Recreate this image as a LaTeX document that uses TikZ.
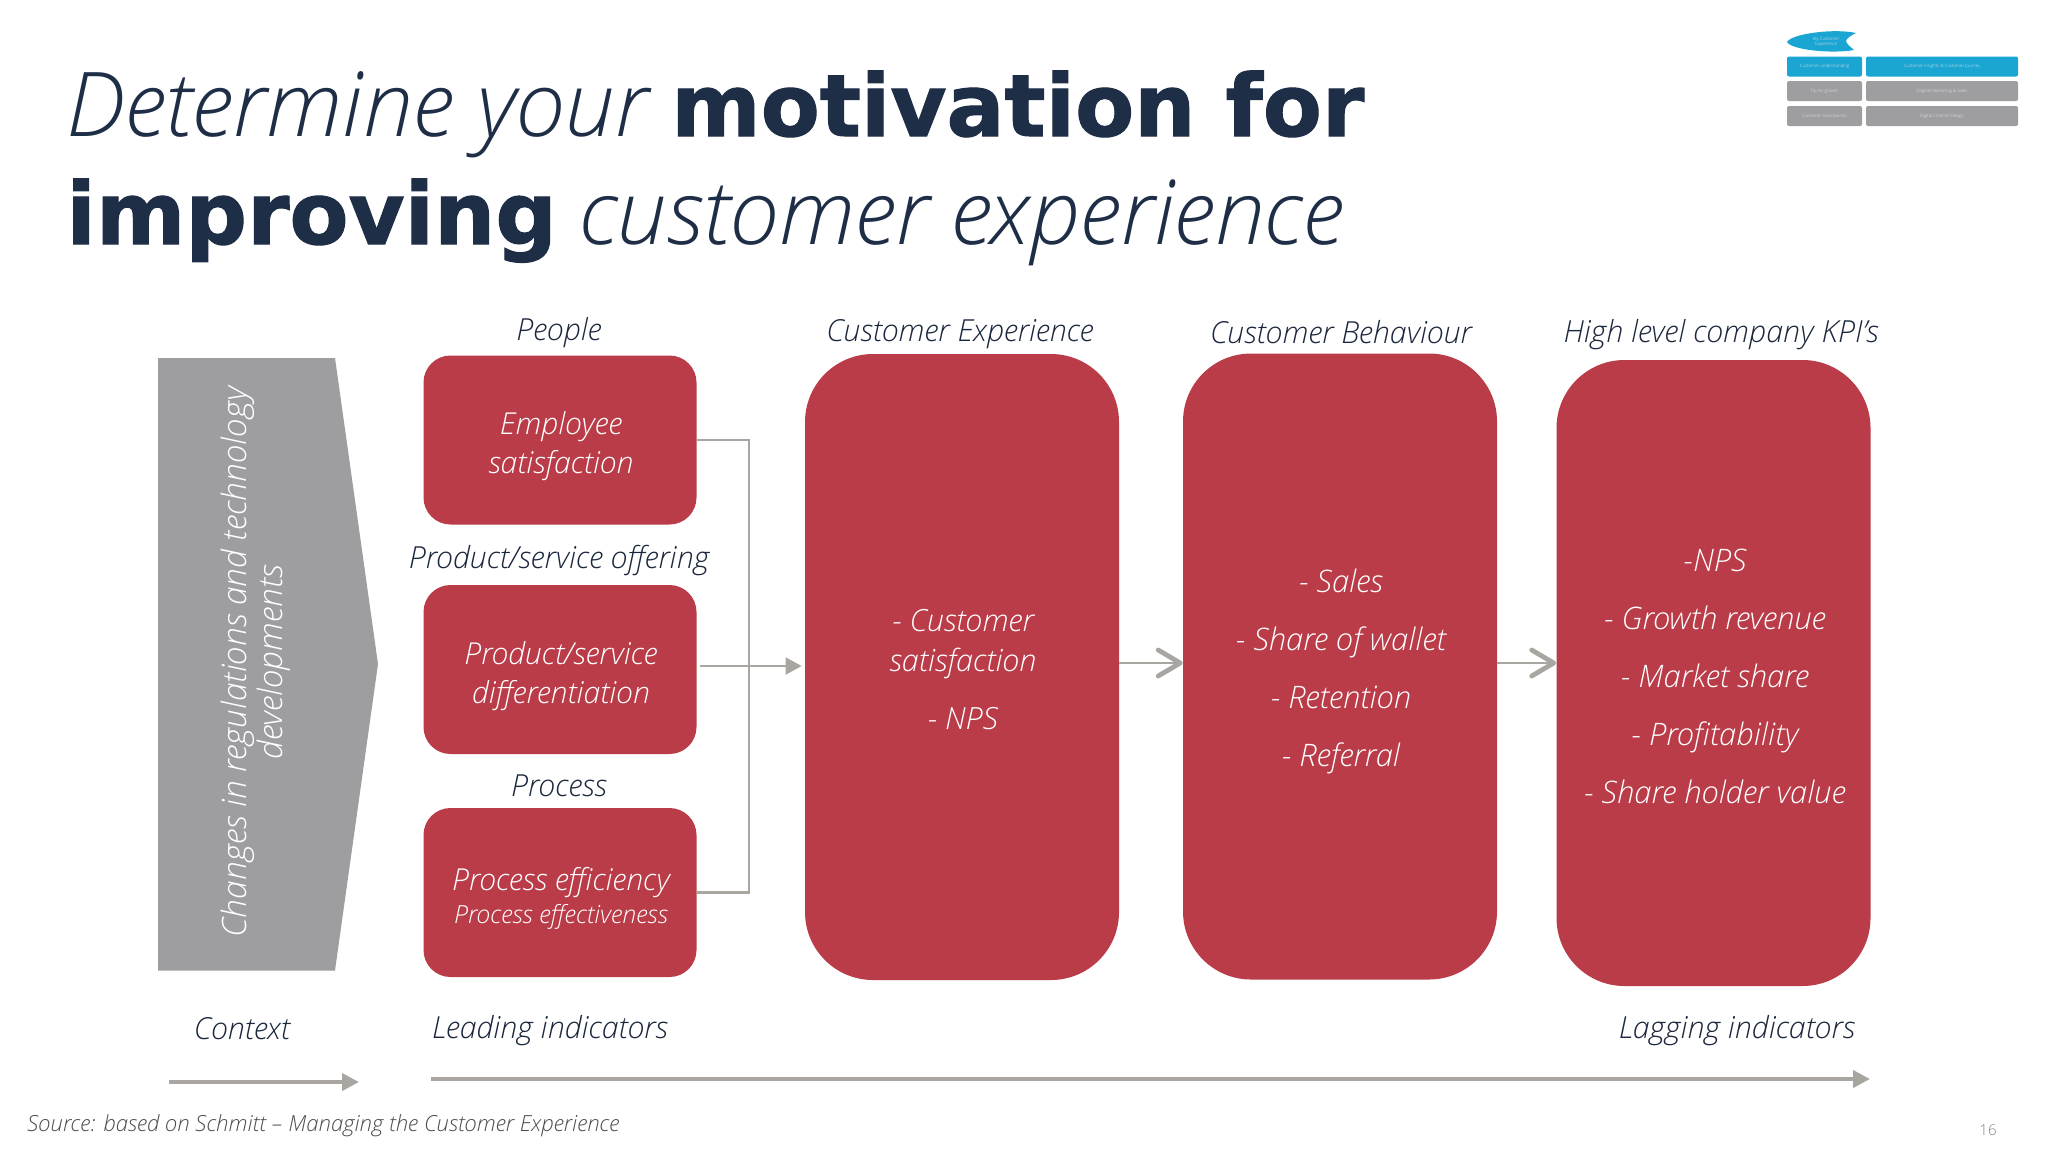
\documentclass[tikz,border=0pt]{standalone}
\usepackage{fontspec}
\setmainfont{Open Sans Light}[ItalicFont={Open Sans Light Italic}]
\newfontfamily\boldfam{DejaVu Sans Bold}[FakeBold=1.2]
\usetikzlibrary{arrows.meta}
\definecolor{cred}{HTML}{BA3C49}
\definecolor{cgray}{HTML}{9E9DA0}
\definecolor{cline}{HTML}{A9A5A0}
\definecolor{cnavy}{HTML}{1F2E47}
\definecolor{cblue}{HTML}{1AA5D3}
\tikzset{
 redbox/.style={fill=cred,draw=none,rounded corners=13.5pt,inner sep=0pt,minimum width=136.5pt,minimum height=84.5pt},
 bigbox/.style={fill=cred,draw=none,rounded corners=34pt,inner sep=0pt,minimum width=157pt,minimum height=313pt},
 boxtext/.style={text=white,font=\itshape\fontsize{15.1}{19.5}\selectfont,align=center,inner sep=0pt},
 listtext/.style={text=white,font=\itshape\fontsize{15.5}{29}\selectfont,align=center,inner sep=0pt},
 head/.style={text=cnavy!85!black,font=\itshape\fontsize{15.2}{19}\selectfont,inner sep=0pt},
 conn/.style={draw=cline,line width=1.4pt},
 flow/.style={draw=cline,line width=1.1pt,-{Triangle[length=8pt,width=8.5pt]}},
 chev/.style={draw=cline,line width=1.1pt,-{Straight Barb[length=11pt,width=13pt,line width=2.4pt,round]}},
 longflow/.style={draw=cline,line width=1.9pt,-{Triangle[length=8.5pt,width=8.5pt]}},
 thumb/.style={rounded corners=1pt,inner sep=0pt,minimum height=10pt,text=white!85!gray,font=\fontsize{2.2}{2.6}\selectfont,align=center},
}
\begin{document}
\begin{tikzpicture}[x=0.5pt,y=-0.5pt]
\useasboundingbox (0,0) rectangle (2048,1152);
\fill[white] (0,0) rectangle (2048,1152);
% title
\node[anchor=base west,inner sep=0pt,text=cnavy,font=\fontsize{43}{50}\selectfont] (t1) at (66,136) {{\fontsize{44.7}{50}\selectfont\itshape Determine your} {\boldfam\upshape motivation for}};
\node[anchor=base west,inner sep=0pt,text=cnavy,font=\fontsize{43}{50}\selectfont] (t2) at (66,244) {{\boldfam\upshape improving} {\fontsize{44.6}{50}\selectfont\itshape customer experience}};
% thumbnail
\fill[cblue] (1787,42) .. controls (1791,34) and (1833,28) .. (1856,33) .. controls (1850,36) and (1847,38) .. (1846,41) .. controls (1847,45) and (1851,47) .. (1854,50) .. controls (1833,54) and (1791,50) .. (1787,42) -- cycle;
\node[text=white!85!gray,font=\fontsize{2.2}{2.6}\selectfont,align=center,inner sep=0pt] (thl) at (1826,42) {My Customer\\Experience};
\node[thumb,fill=cblue,minimum width=37.5pt] (th1) at (1824.5,66.5) {Customer understanding};
\node[thumb,fill=cblue,minimum width=76pt] (th2) at (1942,66.5) {Customer insights \& Customer Journey};
\node[thumb,fill=cgray,minimum width=37.5pt] (th3) at (1824.5,91) {Tip for growth};
\node[thumb,fill=cgray,minimum width=76pt] (th4) at (1942,91) {(Digital) Marketing \& Sales};
\node[thumb,fill=cgray,minimum width=37.5pt] (th5) at (1824.5,116) {Customer touchpoints};
\node[thumb,fill=cgray,minimum width=76pt] (th6) at (1942,116) {Digital Channel Design};
% context pentagon
\fill[cgray] (158,358) -- (335,358) -- (378,664) -- (335,970.5) -- (158,970.5) -- cycle;
\node[rotate=90,text=white,font=\itshape\fontsize{16.8}{18}\selectfont,align=center,inner sep=0pt] (ctx) at (256,662) {Changes in regulations and technology\\developments};
% boxes
\node[redbox] (b1) at (560,440) {};
\node[redbox] (b2) at (560,669.5) {};
\node[redbox] (b3) at (560,892.5) {};
\node[boxtext] (t1b) at (561,446) {Employee\\satisfaction};
\node[boxtext] (t2b) at (561,676) {Product/service\\differentiation};
\node[boxtext] (t3b) at (561,883) {Process efficiency};
\node[boxtext,font=\itshape\fontsize{12.5}{15}\selectfont] (t3c) at (561,917) {Process effectiveness};
\node[bigbox] (ce) at (962,667) {};
\node[bigbox] (cb) at (1340,666.5) {};
\node[bigbox] (kp) at (1713.5,673) {};
\node[boxtext,font=\itshape\fontsize{15.3}{20}\selectfont] (cet) at (963,670) {- Customer\\satisfaction\\[9pt]- NPS};
\node[listtext] (cbt) at (1341,671) {- Sales\\- Share of wallet\\- Retention\\- Referral};
\node[listtext] (kpt) at (1715,676) {-NPS\\- Growth revenue\\- Market share\\- Profitability\\- Share holder value};
% headings
\node[head] (h1) at (559,333) {People};
\node[head] (h2) at (559,561) {Product/service offering};
\node[head] (h3) at (559,786) {Process};
\node[head] (h4) at (960,334) {Customer Experience};
\node[head] (h5) at (1341,332) {Customer Behaviour};
\node[head] (h6) at (1721,335) {High level company KPI's};
\node[head] (h7) at (242,1029) {Context};
\node[head] (h8) at (550,1031) {Leading indicators};
\node[head] (h9) at (1737,1031) {Lagging indicators};
\node[anchor=west,inner sep=0pt,text=black!70,font=\itshape\fontsize{11.1}{13}\selectfont] (src) at (27,1126) {Source: based on Schmitt – Managing the Customer Experience};
\node[inner sep=0pt,text=gray,font=\fontsize{7.5}{9}\selectfont] (pg) at (1988,1130) {16};
% connectors
\coordinate (jn) at (749,666);
\draw[conn] (b1.east) -| (jn);
\draw[conn] (b3.east) -| (jn);
\draw[flow,shorten <=1.5pt,shorten >=1.5pt] (b2.east |- jn) -- (ce.west |- jn);
\coordinate (cy) at (0,663);
\draw[chev] (ce.east |- cy) -- (cb.west |- cy);
\draw[chev] (cb.east |- cy) -- (kp.west |- cy);
\coordinate (c1) at (169,1082);
\coordinate (c2) at (359,1082);
\coordinate (c3) at (431,1079);
\coordinate (c4) at (1870,1079);
\draw[longflow] (c1) -- (c2);
\draw[longflow] (c3) -- (c4);
\end{tikzpicture}
\end{document}
